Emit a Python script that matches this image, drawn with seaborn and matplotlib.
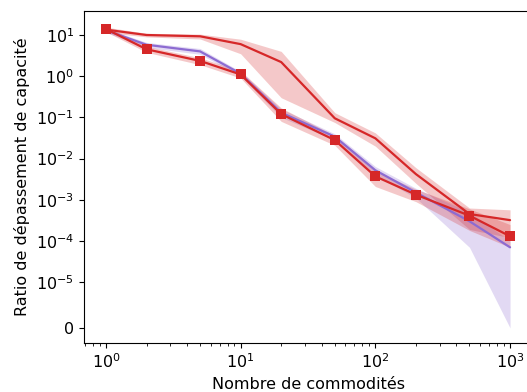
import numpy as np
import pandas as pd
import matplotlib
matplotlib.use("Agg")
import matplotlib.pyplot as plt
import matplotlib.ticker as mticker
import seaborn as sns

x = [1, 2, 5, 10, 20, 50, 100, 200, 500, 1000]

# upper red line (no markers)
red_hi = [13.5, 10.0, 9.3, 6.0, 2.2, 0.095, 0.031, 0.0042, 0.00045, 0.00032]
red_hi_lo = [11.5, 9.0, 8.0, 3.5, 0.3, 0.075, 0.020, 0.0025, 0.00019, 0.00012]
red_hi_up = [15.5, 11.0, 10.5, 7.9, 4.0, 0.13, 0.042, 0.0060, 0.00063, 0.00057]

# purple line
purple = [13.0, 5.8, 4.0, 1.15, 0.13, 0.034, 0.0052, 0.0015, 0.00030, 0.00007]
purple_lo = [11.5, 5.0, 3.4, 1.0, 0.10, 0.028, 0.0040, 0.0011, 0.00007, 0.0]
purple_up = [14.5, 6.6, 4.7, 1.3, 0.16, 0.040, 0.0064, 0.0019, 0.00050, 0.00010]

# red line with squares
red_sq = [14.0, 4.5, 2.35, 1.1, 0.12, 0.028, 0.0037, 0.00133, 0.00041, 0.00013]
red_sq_lo = [12.0, 3.8, 1.9, 0.9, 0.08, 0.021, 0.0021, 0.0009, 0.00018, 0.00007]
red_sq_up = [16.0, 5.3, 2.8, 1.35, 0.17, 0.036, 0.0050, 0.0018, 0.0006, 0.00025]

xlabel = "Nombre de commodités"
ylabel = "Ratio de dépassement de capacité"
yticks = [0, 1e-5, 1e-4, 1e-3, 1e-2, 1e-1, 1, 10]

RED = "#d62728"
PURPLE = "#8c6bd1"

sns.set_style("ticks")
plt.rcParams['font.family'] = ['DejaVu Sans']
for k in ["text.color", "axes.labelcolor", "xtick.color", "ytick.color", "axes.edgecolor"]:
    plt.rcParams[k] = "black"

fig = plt.figure(figsize=(5.27, 3.92), dpi=100)
ax = fig.add_axes([84 / 527, (392 - 343) / 392, 448 / 527, 332.3 / 392])

df = pd.DataFrame({"x": x, "red_hi": red_hi, "purple": purple, "red_sq": red_sq})

ax.fill_between(x, red_hi_lo, red_hi_up, color=RED, alpha=0.25, linewidth=0)
sns.lineplot(data=df, x="x", y="red_hi", color=RED, linewidth=1.6, ax=ax)

ax.fill_between(x, purple_lo, purple_up, color=PURPLE, alpha=0.25, linewidth=0)
sns.lineplot(data=df, x="x", y="purple", color=PURPLE, linewidth=1.6, ax=ax)

ax.fill_between(x, red_sq_lo, red_sq_up, color=RED, alpha=0.25, linewidth=0)
sns.lineplot(data=df, x="x", y="red_sq", color=RED, linewidth=1.6, marker="s",
             markersize=6.5, markeredgewidth=0, ax=ax)

ax.set_xscale("log")
ax.set_yscale("symlog", linthresh=1e-5, linscale=1)
ax.set_xlim(10 ** -0.163, 10 ** 3.163)
ax.set_ylim(-3.3e-6, 10 ** 1.59)
ax.set_yticks(yticks)
ax.yaxis.set_minor_locator(mticker.NullLocator())
ax.spines["right"].set_visible(False)

ax.set_xlabel(xlabel, fontsize=11.5)
ax.set_ylabel(ylabel, fontsize=11.5)
ax.tick_params(labelsize=11.5)

fig.savefig("out.png", dpi=100)
